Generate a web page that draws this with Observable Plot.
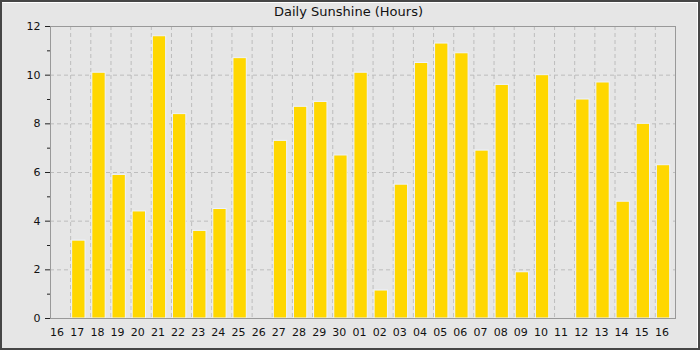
<!DOCTYPE html>
<html>
<head>
<meta charset="utf-8">
<script src="https://cdn.jsdelivr.net/npm/d3@7"></script>
<script src="https://cdn.jsdelivr.net/npm/@observablehq/plot@0.6"></script>
<style>
  html, body { margin: 0; padding: 0; background: #e6e6e6; }
</style>
</head>
<body>
<div id="chart"></div>
<script>
const title = "Daily Sunshine (Hours)";
const days = ["16","17","18","19","20","21","22","23","24","25","26","27","28","29","30",
              "01","02","03","04","05","06","07","08","09","10","11","12","13","14","15","16"];
const sunshine = [null, 3.2, 10.1, 5.9, 4.4, 11.6, 8.4, 3.6, 4.5, 10.7, null, 7.3, 8.7, 8.9, 6.7,
                  10.1, 1.15, 5.5, 10.5, 11.3, 10.9, 6.9, 9.6, 1.9, 10.0, null, 9.0, 9.7, 4.8, 8.0, 6.3];
const yTicks = [0, 2, 4, 6, 8, 10, 12];
const yMinorTicks = [1, 3, 5, 7, 9, 11];

const data = days.map((day, i) => ({i, day, hours: sunshine[i]}));
const bars = data.filter(d => d.hours != null);
const xBoundaries = d3.range(1, days.length);
const xCenters = data.map(d => d.i + 0.5);

const chart = Plot.plot({
  width: 700,
  height: 350,
  marginLeft: 50,
  marginRight: 25,
  marginTop: 26,
  marginBottom: 32,
  style: "background:#e6e6e6;font-family:'DejaVu Sans',sans-serif;font-size:11px;color:#111;outline:2px solid #464646;outline-offset:-2px;box-shadow:inset -3px 3px 0 0 #ffffff;",
  x: {type: "linear", domain: [0, days.length], label: null},
  y: {domain: [0, 12], label: null},
  marks: [
    Plot.gridY(yTicks.slice(1, -1), {stroke: "#bdbdbd", strokeOpacity: 1, strokeDasharray: "4,3"}),
    Plot.gridX(xBoundaries, {stroke: "#bdbdbd", strokeOpacity: 1, strokeDasharray: "4,3"}),
    Plot.rectY(bars, {
      x1: "i", x2: d => d.i + 1, y: "hours",
      fill: "#FFD700", stroke: "#eef3ff", strokeWidth: 1,
      insetLeft: 1.5, insetRight: 5.3
    }),
    Plot.frame({stroke: "#999999"}),
    Plot.axisY(yTicks, {tickSize: 5, tickPadding: 5, stroke: "#222", fill: "#111", fontSize: 11, label: null}),
    Plot.axisY(yMinorTicks, {tickSize: 3, text: null, stroke: "#222", label: null}),
    Plot.axisX(xCenters, {
      tickSize: 0, tickPadding: 10, dx: -3.5, fill: "#111", fontSize: 11, label: null,
      tickFormat: d => days[Math.floor(d)]
    }),
    Plot.text([title], {frameAnchor: "top", dy: -14.2, dx: -14.5, fontSize: 13, fill: "#111", lineAnchor: "middle"})
  ]
});
document.getElementById("chart").appendChild(chart);
</script>
</body>
</html>
